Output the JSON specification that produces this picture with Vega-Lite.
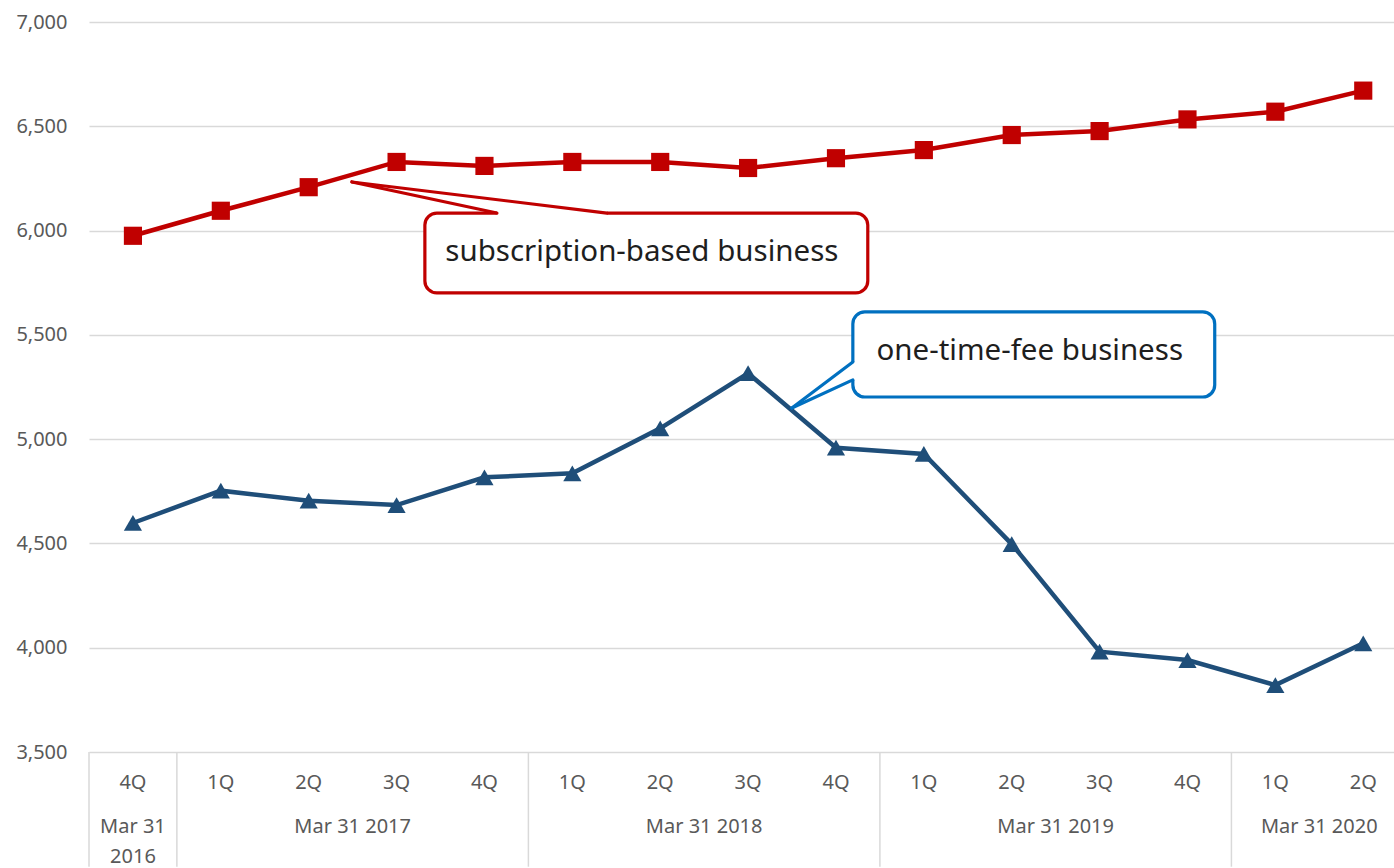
{
  "$schema": "https://vega.github.io/schema/vega-lite/v6.json",
  "width": 1305,
  "height": 730,
  "autosize": {"type": "none"},
  "padding": {"left": 89, "top": 22, "right": 0, "bottom": 116},
  "config": {
    "view": {"stroke": null},
    "font": "Noto Sans",
    "axisY": {
      "tickCount": 8, "ticks": false, "domain": false, "labelPadding": 22, "labelFontSize": 20,
      "labelColor": "#595959", "labelFont": "Noto Sans", "grid": true, "gridColor": "#d9d9d9", "gridWidth": 1.3
    }
  },
  "datasets": {
    "sales": [
      {"idx": 0, "quarter": "4Q", "fy": "Mar 31 2016", "series": "subscription-based business", "value": 5975},
      {"idx": 1, "quarter": "1Q", "fy": "Mar 31 2017", "series": "subscription-based business", "value": 6095},
      {"idx": 2, "quarter": "2Q", "fy": "Mar 31 2017", "series": "subscription-based business", "value": 6208},
      {"idx": 3, "quarter": "3Q", "fy": "Mar 31 2017", "series": "subscription-based business", "value": 6329},
      {"idx": 4, "quarter": "4Q", "fy": "Mar 31 2017", "series": "subscription-based business", "value": 6310},
      {"idx": 5, "quarter": "1Q", "fy": "Mar 31 2018", "series": "subscription-based business", "value": 6329},
      {"idx": 6, "quarter": "2Q", "fy": "Mar 31 2018", "series": "subscription-based business", "value": 6329},
      {"idx": 7, "quarter": "3Q", "fy": "Mar 31 2018", "series": "subscription-based business", "value": 6300},
      {"idx": 8, "quarter": "4Q", "fy": "Mar 31 2018", "series": "subscription-based business", "value": 6347},
      {"idx": 9, "quarter": "1Q", "fy": "Mar 31 2019", "series": "subscription-based business", "value": 6386},
      {"idx": 10, "quarter": "2Q", "fy": "Mar 31 2019", "series": "subscription-based business", "value": 6458},
      {"idx": 11, "quarter": "3Q", "fy": "Mar 31 2019", "series": "subscription-based business", "value": 6477},
      {"idx": 12, "quarter": "4Q", "fy": "Mar 31 2019", "series": "subscription-based business", "value": 6533},
      {"idx": 13, "quarter": "1Q", "fy": "Mar 31 2020", "series": "subscription-based business", "value": 6570},
      {"idx": 14, "quarter": "2Q", "fy": "Mar 31 2020", "series": "subscription-based business", "value": 6671},
      {"idx": 0, "quarter": "4Q", "fy": "Mar 31 2016", "series": "one-time-fee business", "value": 4598},
      {"idx": 1, "quarter": "1Q", "fy": "Mar 31 2017", "series": "one-time-fee business", "value": 4753},
      {"idx": 2, "quarter": "2Q", "fy": "Mar 31 2017", "series": "one-time-fee business", "value": 4705},
      {"idx": 3, "quarter": "3Q", "fy": "Mar 31 2017", "series": "one-time-fee business", "value": 4684},
      {"idx": 4, "quarter": "4Q", "fy": "Mar 31 2017", "series": "one-time-fee business", "value": 4817},
      {"idx": 5, "quarter": "1Q", "fy": "Mar 31 2018", "series": "one-time-fee business", "value": 4836},
      {"idx": 6, "quarter": "2Q", "fy": "Mar 31 2018", "series": "one-time-fee business", "value": 5052},
      {"idx": 7, "quarter": "3Q", "fy": "Mar 31 2018", "series": "one-time-fee business", "value": 5316},
      {"idx": 8, "quarter": "4Q", "fy": "Mar 31 2018", "series": "one-time-fee business", "value": 4959},
      {"idx": 9, "quarter": "1Q", "fy": "Mar 31 2019", "series": "one-time-fee business", "value": 4929},
      {"idx": 10, "quarter": "2Q", "fy": "Mar 31 2019", "series": "one-time-fee business", "value": 4497},
      {"idx": 11, "quarter": "3Q", "fy": "Mar 31 2019", "series": "one-time-fee business", "value": 3981},
      {"idx": 12, "quarter": "4Q", "fy": "Mar 31 2019", "series": "one-time-fee business", "value": 3941},
      {"idx": 13, "quarter": "1Q", "fy": "Mar 31 2020", "series": "one-time-fee business", "value": 3821},
      {"idx": 14, "quarter": "2Q", "fy": "Mar 31 2020", "series": "one-time-fee business", "value": 4021}
    ],
    "years": [
      {"center": 0, "label": "Mar 31\n2016"},
      {"center": 2.5, "label": "Mar 31 2017"},
      {"center": 6.5, "label": "Mar 31 2018"},
      {"center": 10.5, "label": "Mar 31 2019"},
      {"center": 13.5, "label": "Mar 31 2020"}
    ],
    "bounds": [
      {"b": -0.5}, {"b": 0.5}, {"b": 4.5}, {"b": 8.5}, {"b": 12.5}
    ],
    "boxes": [
      {"callout": "subscription-based business", "x1": 3.322, "x2": 8.362, "y1": 6084, "y2": 5701},
      {"callout": "one-time-fee business", "x1": 8.192, "x2": 12.31, "y1": 5610, "y2": 5202}
    ],
    "gaps": [
      {"callout": "subscription-based business", "x1": 4.142, "x2": 5.393, "y1": 6084, "y2": 6084},
      {"callout": "one-time-fee business", "x1": 8.192, "x2": 8.192, "y1": 5370, "y2": 5284}
    ],
    "pointers": [
      {"callout": "subscription-based business", "x1": 2.492, "y1": 6233, "x2": 4.142, "y2": 6084},
      {"callout": "subscription-based business", "x1": 2.492, "y1": 6233, "x2": 5.393, "y2": 6084},
      {"callout": "one-time-fee business", "x1": 7.498, "y1": 5149, "x2": 8.192, "y2": 5370},
      {"callout": "one-time-fee business", "x1": 7.498, "y1": 5149, "x2": 8.192, "y2": 5284}
    ],
    "labels": [
      {"callout": "subscription-based business", "x": 5.791, "y": 5852},
      {"callout": "one-time-fee business", "x": 10.205, "y": 5378}
    ]
  },
  "layer": [
    {
      "data": {"name": "bounds"},
      "mark": {"type": "rule", "color": "#d9d9d9", "strokeWidth": 1.5},
      "encoding": {
        "x": {"field": "b", "type": "quantitative", "scale": {"domain": [-0.5, 14.35], "nice": false, "zero": false}, "axis": null},
        "y": {"datum": 3500, "type": "quantitative", "scale": {"domain": [3500, 7000], "nice": false, "zero": false}, "axis": {"title": null, "format": ",.0f"}},
        "y2": {"datum": 2950}
      }
    },
    {
      "data": {"name": "sales"},
      "transform": [{"filter": "datum.series === 'subscription-based business'"}],
      "mark": {"type": "text", "fontSize": 20, "color": "#595959", "baseline": "alphabetic", "align": "center"},
      "encoding": {
        "x": {"field": "idx", "type": "quantitative", "scale": {"domain": [-0.5, 14.35], "nice": false, "zero": false}, "axis": null},
        "y": {"datum": 3323, "type": "quantitative", "scale": {"domain": [3500, 7000], "nice": false, "zero": false}, "axis": {"title": null, "format": ",.0f"}},
        "text": {"field": "quarter", "type": "nominal"}
      }
    },
    {
      "data": {"name": "years"},
      "mark": {"type": "text", "fontSize": 20, "color": "#595959", "baseline": "alphabetic", "align": "center", "lineBreak": "\n", "lineHeight": 30},
      "encoding": {
        "x": {"field": "center", "type": "quantitative", "scale": {"domain": [-0.5, 14.35], "nice": false, "zero": false}, "axis": null},
        "y": {"datum": 3112, "type": "quantitative", "scale": {"domain": [3500, 7000], "nice": false, "zero": false}, "axis": {"title": null, "format": ",.0f"}},
        "text": {"field": "label", "type": "nominal"}
      }
    },
    {
      "data": {"name": "sales"},
      "mark": {"type": "line", "strokeWidth": 4.5},
      "encoding": {
        "x": {"field": "idx", "type": "quantitative", "scale": {"domain": [-0.5, 14.35], "nice": false, "zero": false}, "axis": null},
        "y": {"field": "value", "type": "quantitative", "scale": {"domain": [3500, 7000], "nice": false, "zero": false}, "axis": {"title": null, "format": ",.0f"}},
        "color": {"field": "series", "type": "nominal", "scale": {"domain": ["subscription-based business", "one-time-fee business"], "range": ["#c00000", "#1f4e79"]}, "legend": null}
      }
    },
    {
      "data": {"name": "sales"},
      "mark": {"type": "point", "filled": true, "opacity": 1, "size": 330},
      "encoding": {
        "x": {"field": "idx", "type": "quantitative", "scale": {"domain": [-0.5, 14.35], "nice": false, "zero": false}, "axis": null},
        "y": {"field": "value", "type": "quantitative", "scale": {"domain": [3500, 7000], "nice": false, "zero": false}, "axis": {"title": null, "format": ",.0f"}},
        "color": {"field": "series", "type": "nominal", "scale": {"domain": ["subscription-based business", "one-time-fee business"], "range": ["#c00000", "#1f4e79"]}, "legend": null},
        "shape": {"field": "series", "type": "nominal", "scale": {"domain": ["subscription-based business", "one-time-fee business"], "range": ["square", "triangle-up"]}, "legend": null}
      }
    },
    {
      "data": {"name": "boxes"},
      "mark": {"type": "rect", "fill": "white", "strokeWidth": 3.2, "cornerRadius": 12},
      "encoding": {
        "x": {"field": "x1", "type": "quantitative", "scale": {"domain": [-0.5, 14.35], "nice": false, "zero": false}, "axis": null},
        "x2": {"field": "x2"},
        "y": {"field": "y1", "type": "quantitative", "scale": {"domain": [3500, 7000], "nice": false, "zero": false}, "axis": {"title": null, "format": ",.0f"}},
        "y2": {"field": "y2"},
        "stroke": {"field": "callout", "type": "nominal", "scale": {"domain": ["subscription-based business", "one-time-fee business"], "range": ["#c00000", "#0070c0"]}, "legend": null}
      }
    },
    {
      "data": {"name": "gaps"},
      "mark": {"type": "rule", "color": "white", "strokeWidth": 5},
      "encoding": {
        "x": {"field": "x1", "type": "quantitative", "scale": {"domain": [-0.5, 14.35], "nice": false, "zero": false}, "axis": null},
        "x2": {"field": "x2"},
        "y": {"field": "y1", "type": "quantitative", "scale": {"domain": [3500, 7000], "nice": false, "zero": false}, "axis": {"title": null, "format": ",.0f"}},
        "y2": {"field": "y2"}
      }
    },
    {
      "data": {"name": "pointers"},
      "mark": {"type": "rule", "strokeWidth": 3.2, "strokeCap": "round"},
      "encoding": {
        "x": {"field": "x1", "type": "quantitative", "scale": {"domain": [-0.5, 14.35], "nice": false, "zero": false}, "axis": null},
        "x2": {"field": "x2"},
        "y": {"field": "y1", "type": "quantitative", "scale": {"domain": [3500, 7000], "nice": false, "zero": false}, "axis": {"title": null, "format": ",.0f"}},
        "y2": {"field": "y2"},
        "stroke": {"field": "callout", "type": "nominal", "scale": {"domain": ["subscription-based business", "one-time-fee business"], "range": ["#c00000", "#0070c0"]}, "legend": null}
      }
    },
    {
      "data": {"name": "labels"},
      "mark": {"type": "text", "fontSize": 29.5, "color": "#1e1e1e", "align": "center", "baseline": "alphabetic"},
      "encoding": {
        "x": {"field": "x", "type": "quantitative", "scale": {"domain": [-0.5, 14.35], "nice": false, "zero": false}, "axis": null},
        "y": {"field": "y", "type": "quantitative", "scale": {"domain": [3500, 7000], "nice": false, "zero": false}, "axis": {"title": null, "format": ",.0f"}},
        "text": {"field": "callout", "type": "nominal"}
      }
    }
  ]
}
